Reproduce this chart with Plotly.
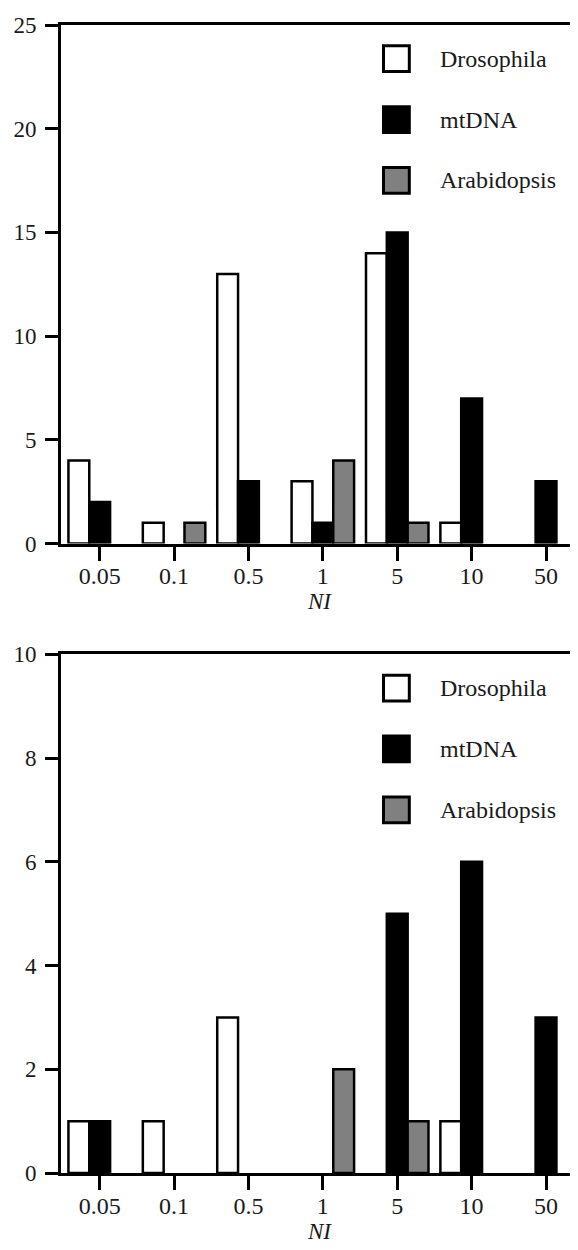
import plotly.graph_objects as go
from plotly.subplots import make_subplots

categories = ["0.05", "0.1", "0.5", "1", "5", "10", "50"]
series_names = ["Drosophila", "mtDNA", "Arabidopsis"]

top_drosophila = [4, 1, 13, 3, 14, 1, 0]
top_mtdna = [2, 0, 3, 1, 15, 7, 3]
top_arabidopsis = [0, 1, 0, 4, 1, 0, 0]

bottom_drosophila = [1, 1, 3, 0, 0, 1, 0]
bottom_mtdna = [1, 0, 0, 0, 5, 6, 3]
bottom_arabidopsis = [0, 0, 0, 2, 1, 0, 0]

top_yticks = [0, 5, 10, 15, 20, 25]
bottom_yticks = [0, 2, 4, 6, 8, 10]

fills = {"Drosophila": "white", "mtDNA": "black", "Arabidopsis": "#808080"}
FONT = '"Liberation Serif", "Times New Roman", Tinos, Times, serif'
TXT = "#1a1a1a"
OFF = 8  # page body margin offset
W, H = 578, 1250
ML, MR, MT, MB = 57 - OFF, OFF, 13 - OFF, H - (1173 - OFF)

fig = make_subplots(rows=2, cols=1, vertical_spacing=(649 - 537) / (H - MT - MB))

panels = [
    (1, [top_drosophila, top_mtdna, top_arabidopsis], top_yticks),
    (2, [bottom_drosophila, bottom_mtdna, bottom_arabidopsis], bottom_yticks),
]
for row, vals, yt in panels:
    for name, v in zip(series_names, vals):
        fig.add_trace(go.Bar(
            x=categories, y=[val if val else None for val in v], name=name, showlegend=False,
            marker=dict(color=fills[name], line=dict(color="black", width=2.5)),
            offsetgroup=name,
        ), row=row, col=1)
    fig.update_xaxes(
        type="category", range=[-0.52, 6.43],
        showline=True, linecolor="black", linewidth=3, mirror=True,
        ticks="outside", ticklen=14, tickwidth=3, tickcolor="black",
        ticklabelstandoff=-5,
        tickfont=dict(family=FONT, size=24, color=TXT),
        title=dict(text="<i>NI</i>", font=dict(family=FONT, size=23, color=TXT), standoff=4),
        showgrid=False, zeroline=False, row=row, col=1)
    fig.update_yaxes(
        range=[0, yt[-1]], tickvals=yt,
        showline=True, linecolor="black", linewidth=3,
        ticks="outside", ticklen=13, tickwidth=3, tickcolor="black",
        ticklabelstandoff=4,
        tickfont=dict(family=FONT, size=23, color=TXT),
        showgrid=False, zeroline=False, row=row, col=1)

# legends (drawn as layout decorations), positions given in page pixels
pw = W - ML - MR
ph = H - MT - MB

def px_x(x):
    return (x - OFF - ML) / pw

def px_y(y):
    return (H - MB - (y - OFF)) / ph

for top in (13, 649):
    for i, name in enumerate(series_names):
        cy = top + 34 + i * 61.5
        fig.add_shape(type="rect", xref="paper", yref="paper",
                      x0=px_x(382), x1=px_x(408), y0=px_y(cy + 13), y1=px_y(cy - 13),
                      fillcolor=fills[name], line=dict(color="black", width=3))
        fig.add_annotation(xref="paper", yref="paper", x=px_x(437), y=px_y(cy),
                           text=name, showarrow=False, xanchor="left", yanchor="middle",
                           font=dict(family=FONT, size=24, color=TXT))

fig.update_layout(
    width=W, height=H, barmode="group", bargap=0.16, bargroupgap=0,
    plot_bgcolor="white", paper_bgcolor="white",
    margin=dict(l=ML, r=MR, t=MT, b=MB),
)
fig.write_html("out.html")
